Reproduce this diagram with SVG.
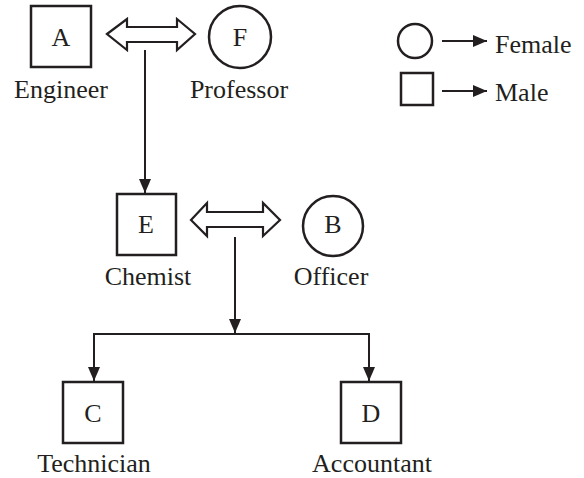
<svg xmlns="http://www.w3.org/2000/svg" width="584" height="478" viewBox="0 0 584 478">
<defs>
<style>
.n{fill:#fff;stroke:#231f20;stroke-width:2.5}
.t{font-family:'Liberation Serif','DejaVu Serif','Times New Roman',serif;font-size:26px;fill:#231f20;text-anchor:middle}
.tl{font-family:'Liberation Serif','DejaVu Serif','Times New Roman',serif;font-size:26px;fill:#231f20}
.l{fill:none;stroke:#231f20;stroke-width:2}
.d{fill:#fff;stroke:#231f20;stroke-width:2.2;stroke-linejoin:miter}
</style>
<marker id="ah" viewBox="0 0 14 12" refX="14" refY="6" markerWidth="14" markerHeight="12" markerUnits="userSpaceOnUse" orient="auto">
<path d="M0,0 L14,6 L0,12 Z" fill="#231f20"/>
</marker>
</defs>
<rect width="584" height="478" fill="#fff"/>
<g id="connectors">
<polygon class="d" points="107,34 127,19 127,27 177,27 177,19 195,34 177,50 177,42 127,42 127,50"/>
<line class="l" x1="145" y1="50" x2="145" y2="193" marker-end="url(#ah)"/>
<polygon class="d" points="191,220 207,203 207,212 263,212 263,203 280,220 263,236 263,227 207,227 207,236"/>
<line class="l" x1="235" y1="237" x2="235" y2="333" marker-end="url(#ah)"/>
<polyline class="l" points="94,381 94,334 369,334 369,381"/>
<line class="l" x1="94" y1="360" x2="94" y2="381" marker-end="url(#ah)"/>
<line class="l" x1="369" y1="360" x2="369" y2="381" marker-end="url(#ah)"/>
</g>
<g id="nodeA"><rect class="n" x="31" y="6" width="60" height="61"/><text class="t" x="61" y="46">A</text><text class="t" x="61" y="98">Engineer</text></g>
<g id="nodeF"><circle class="n" cx="240" cy="37" r="31"/><text class="t" x="240" y="46">F</text><text class="t" x="239" y="98">Professor</text></g>
<g id="nodeE"><rect class="n" x="117" y="194" width="59" height="61"/><text class="t" x="146" y="233">E</text><text class="t" x="148" y="285">Chemist</text></g>
<g id="nodeB"><circle class="n" cx="333" cy="226" r="30"/><text class="t" x="333" y="233">B</text><text class="t" x="331" y="285">Officer</text></g>
<g id="nodeC"><rect class="n" x="63" y="382" width="60" height="61"/><text class="t" x="93" y="422">C</text><text class="t" x="94" y="472">Technician</text></g>
<g id="nodeD"><rect class="n" x="341" y="382" width="60" height="61"/><text class="t" x="371" y="422">D</text><text class="t" x="372" y="472">Accountant</text></g>
<g id="legend">
<circle class="n" cx="415" cy="41" r="17"/>
<line class="l" x1="442" y1="41" x2="487" y2="41" stroke-width="2.5" marker-end="url(#ah)"/>
<text class="tl" x="495" y="53">Female</text>
<rect class="n" x="401" y="73" width="32" height="32"/>
<line class="l" x1="442" y1="91" x2="487" y2="91" stroke-width="2.5" marker-end="url(#ah)"/>
<text class="tl" x="495" y="101">Male</text>
</g>
</svg>
